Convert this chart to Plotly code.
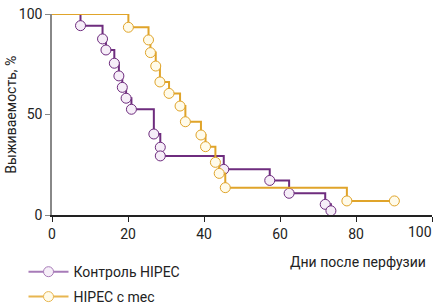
import plotly.graph_objects as go

# Kaplan-Meier style data
ctrl_days = [0, 7.5, 13.3, 14.2, 16.4, 17.6, 18.5, 19.5, 20.9, 26.8, 28.5, 28.5, 45.2, 57.3, 62.4, 71.9, 73.4]
ctrl_surv = [100, 94.2, 87.6, 82.1, 75.5, 69.2, 63.5, 58.1, 52.6, 40.3, 33.7, 29.4, 22.7, 17.2, 10.8, 5.3, 2.1]

mec_days = [0, 20.1, 25.4, 25.9, 27.3, 28.4, 30.8, 33.7, 35.1, 39.2, 40.4, 43.0, 44.0, 45.6, 77.6, 90.1]
mec_surv = [100, 93.4, 87.1, 80.8, 74.1, 66.2, 60.5, 54.2, 46.4, 39.8, 34.0, 26.2, 20.7, 13.6, 7.0, 7.0]

x_ticks = [0, 20, 40, 60, 80, 100]
x_ticktext = ["0", "20", "40", "60", "80", ""]
x_last_label = "100"
y_ticks = [0, 50, 100]

names = ["Контроль HIPEC", "HIPEC с mec"]
line_colors = ["#6E2C7E", "#E0A42A"]
legend_colors = ["#A77BB8", "#E8B650"]
fill_colors = ["#F6EEF8", "#FFFBEA"]
legend_ids = ["legend", "legend2"]

FONT = "Roboto, Liberation Sans, sans-serif"

fig = go.Figure()
series = [(ctrl_days, ctrl_surv), (mec_days, mec_surv)]
for (xs, ys), name, lc, fc in zip(series, names, line_colors, fill_colors):
    fig.add_trace(go.Scatter(
        x=xs, y=ys, mode="lines", line=dict(color=lc, width=2, shape="hv"),
        showlegend=False, cliponaxis=False, hoverinfo="skip"))
    fig.add_trace(go.Scatter(
        x=xs[1:], y=ys[1:], mode="markers",
        marker=dict(size=10, color=fc, line=dict(color=lc, width=1)),
        showlegend=False, cliponaxis=False))

for name, lc, fc, lid in zip(names, legend_colors, fill_colors, legend_ids):
    fig.add_trace(go.Scatter(
        x=[None], y=[None], mode="lines+markers", name=name, legend=lid,
        line=dict(color=lc, width=2),
        marker=dict(size=10, color=fc, line=dict(color=lc, width=1))))

leg_common = dict(x=-0.075, xanchor="left", yanchor="middle",
                  bgcolor="rgba(0,0,0,0)", font=dict(size=14), itemwidth=40)

fig.update_layout(
    width=442, height=304,
    margin=dict(l=52, r=10, t=14, b=89, autoexpand=False),
    paper_bgcolor="white", plot_bgcolor="white",
    font=dict(family=FONT, size=14, color="#222"),
    showlegend=True,
    legend=dict(y=-0.284, **leg_common),
    legend2=dict(y=-0.408, **leg_common),
    xaxis=dict(range=[0, 100], tickvals=x_ticks, ticktext=x_ticktext,
               showgrid=False, zeroline=False,
               showline=True, linecolor="#222", linewidth=1.5,
               ticks="outside", ticklen=5, tickcolor="#222",
               automargin=False, ticklabeloverflow="allow"),
    yaxis=dict(range=[0, 100], tickvals=y_ticks, showgrid=False, zeroline=False,
               showline=True, linecolor="#888", linewidth=1.5,
               ticks="outside", ticklen=5, tickcolor="#888", ticklabelstandoff=0,
               automargin=False, ticklabeloverflow="allow"),
    annotations=[
        dict(text=x_last_label, xref="x", yref="paper",
             x=x_ticks[-1], y=0, xanchor="right", yanchor="top", xshift=2, yshift=-7,
             showarrow=False, font=dict(size=14)),
        dict(text="Выживаемость, %", xref="paper", yref="paper",
             x=-0.11, y=0.5, xanchor="center", yanchor="middle",
             textangle=-90, showarrow=False, font=dict(size=14)),
        dict(text="Дни после перфузии", xref="paper", yref="paper",
             x=0.99, y=-0.235, xanchor="right", yanchor="middle",
             showarrow=False, font=dict(size=14)),
    ],
)

fig.write_html("out.html", config={"displayModeBar": False},
               post_script="document.body.style.margin='0';")
